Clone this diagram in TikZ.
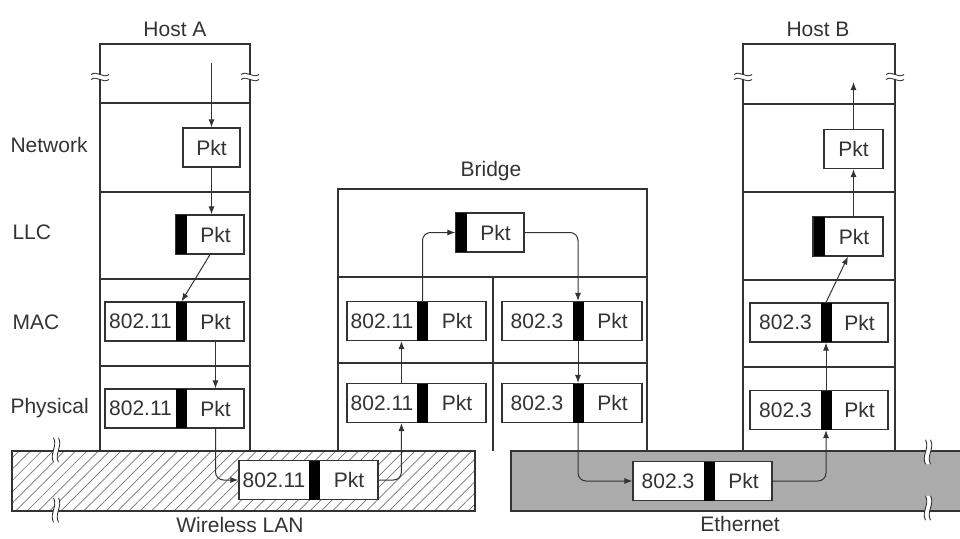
\documentclass[tikz,border=0pt]{standalone}
\usepackage{fontspec}
\setmainfont{Liberation Sans}
\usetikzlibrary{arrows.meta,patterns.meta}

\begin{document}
\begin{tikzpicture}[
	x=1pt, y=-1pt,
	line width=1.1pt, color=black!80,
	font=\fontsize{21}{24}\selectfont,
	>={Latex[length=8pt,width=6pt]},
	frame/.style={ draw, fill=white, inner sep=0pt, minimum height=39pt },
	hdr/.style={ fill=black, inner sep=0pt, minimum width=11pt, minimum height=39pt },
	txt/.style={ inner sep=0pt },
	flow/.style={ ->, line width=1pt, rounded corners=8pt }
]
\useasboundingbox (0,0) rectangle (960,538);

\draw[pattern={Lines[angle=45,distance=8pt,line width=0.7pt]}, pattern color=black!55] (12,451) rectangle (475,511);
\fill[black!33] (511,451) rectangle (960,511);
\draw (960,451) -- (511,451) -- (511,511) -- (960,511);

\draw (100,451) -- (100,44) -- (250,44) -- (250,451);
\foreach \y in {103,192,279,366} \draw (100,\y) -- (250,\y);

\draw (338,451) -- (338,189) -- (647,189) -- (647,451);
\foreach \y in {277,363} \draw (338,\y) -- (647,\y);
\draw (493,277) -- (493,451);

\draw (743,451) -- (743,44) -- (895,44) -- (895,451);
\foreach \y in {104,192,280,367} \draw (743,\y) -- (895,\y);

\foreach \bx/\by/\ang/\s in {100/77/0/1, 250/77/0/1, 743/77/0/1, 895/77/0/1, 56/450/90/1.35, 56/510/90/1.35, 928/452/90/1.35, 928/508/90/1.35} {
	\begin{scope}[shift={(\bx,\by)}, rotate=\ang, xscale=\s]
	\fill[white] (-9,-2.5) .. controls (-3,-7) and (3,2) .. (9,-2.5) -- (9,2.5) .. controls (3,7) and (-3,-2) .. (-9,2.5) -- cycle;
	\draw[line width=0.9pt] (-9,-2.5) .. controls (-3,-7) and (3,2) .. (9,-2.5);
	\draw[line width=0.9pt] (-9,2.5) .. controls (-3,-2) and (3,7) .. (9,2.5);
	\end{scope}
}

\node[txt] (hostA) at (175,29) {Host A};
\node[txt] (hostB) at (818,29) {Host B};
\node[txt] (bridge) at (491,171) {Bridge};
\node[txt,anchor=west] (lNet) at (10,145) {Network};
\node[txt,anchor=west] (lLLC) at (12,232) {LLC};
\node[txt,anchor=west] (lMAC) at (12,322) {MAC};
\node[txt,anchor=west] (lPhy) at (10,408) {Physical};
\node[txt] (wlan) at (240,525) {Wireless LAN};
\node[txt] (ether) at (740,524) {Ethernet};

\node[frame,minimum width=57pt] (aNet) at (211.5,147.5) {Pkt};
\node[frame,minimum width=68pt] (aLLC) at (210,234.5) {};
\node[hdr] (aLLCh) at (181.5,234.5) {};
\node[txt] (aLLCp) at (215.5,234.5) {Pkt};
\node[frame,minimum width=139pt] (aMAC) at (174.5,321.5) {};
\node[hdr] (aMACh) at (181.5,321.5) {};
\node[txt] (aMACt) at (140.5,321.5) {802.11};
\node[txt] (aMACp) at (215.5,321.5) {Pkt};
\node[frame,minimum width=139pt] (aPhy) at (174.5,408.5) {};
\node[hdr] (aPhyh) at (181.5,408.5) {};
\node[txt] (aPhyt) at (140.5,408.5) {802.11};
\node[txt] (aPhyp) at (215.5,408.5) {Pkt};

\node[frame,minimum width=139pt] (wFr) at (308.5,480) {};
\node[hdr] (wFrh) at (314.5,480) {};
\node[txt] (wFrt) at (274,480) {802.11};
\node[txt] (wFrp) at (349,480) {Pkt};

\node[frame,minimum width=68pt] (bLLC) at (490,232.5) {};
\node[hdr] (bLLCh) at (461.5,232.5) {};
\node[txt] (bLLCp) at (495.5,232.5) {Pkt};
\node[frame,minimum width=139pt] (bMacL) at (416.5,321) {};
\node[hdr] (bMacLh) at (422.5,321) {};
\node[txt] (bMacLt) at (382,321) {802.11};
\node[txt] (bMacLp) at (457,321) {Pkt};
\node[frame,minimum width=140pt] (bMacR) at (572,321) {};
\node[hdr] (bMacRh) at (578,321) {};
\node[txt] (bMacRt) at (537,321) {802.3};
\node[txt] (bMacRp) at (612.5,321) {Pkt};
\node[frame,minimum width=139pt] (bPhyL) at (416.5,403) {};
\node[hdr] (bPhyLh) at (422.5,403) {};
\node[txt] (bPhyLt) at (382,403) {802.11};
\node[txt] (bPhyLp) at (457,403) {Pkt};
\node[frame,minimum width=140pt] (bPhyR) at (572,403) {};
\node[hdr] (bPhyRh) at (578,403) {};
\node[txt] (bPhyRt) at (537,403) {802.3};
\node[txt] (bPhyRp) at (612.5,403) {Pkt};

\node[frame,minimum width=139pt] (eFr) at (702.5,481) {};
\node[hdr] (eFrh) at (709,481) {};
\node[txt] (eFrt) at (668,481) {802.3};
\node[txt] (eFrp) at (743.5,481) {Pkt};

\node[frame,minimum width=59pt] (hNet) at (853.5,149) {Pkt};
\node[frame,minimum width=70pt] (hLLC) at (848,236.5) {};
\node[hdr] (hLLCh) at (819,236.5) {};
\node[txt] (hLLCp) at (854,236.5) {Pkt};
\node[frame,minimum width=138pt] (hMAC) at (819,322.5) {};
\node[hdr] (hMACh) at (826,322.5) {};
\node[txt] (hMACt) at (785.5,322.5) {802.3};
\node[txt] (hMACp) at (859.5,322.5) {Pkt};
\node[frame,minimum width=138pt] (hPhy) at (819,410) {};
\node[hdr] (hPhyh) at (826,410) {};
\node[txt] (hPhyt) at (785.5,410) {802.3};
\node[txt] (hPhyp) at (859.5,410) {Pkt};

\coordinate (aTop) at (211.5,63);
\coordinate (hTop) at (853.5,82);

\draw[flow] (aTop) -- (aNet.north);
\draw[flow] (aNet.south) -- (aNet.south |- aLLC.north);
\draw[flow] (aLLC.south) -- (aMACh.north);
\draw[flow] (aMACp |- aMAC.south) -- (aMACp |- aPhy.north);
\draw[flow] (aPhyp |- aPhy.south) |- (wFr.west);
\draw[flow] (wFr.east) -| ([xshift=55pt]bPhyL.south west);
\draw[flow] ([xshift=55pt]bPhyL.north west) -- ([xshift=55pt]bMacL.south west);
\draw[flow] (bMacLh.north) |- (bLLC.west);
\draw[flow] (bLLC.east) -| (bMacRh.north);
\draw[flow] (bMacRh.south) -- (bPhyRh.north);
\draw[flow] (bPhyRh.south) |- (eFr.west);
\draw[flow] (eFr.east) -| (hPhyh.south);
\draw[flow] (hPhyh.north) -- (hMACh.south);
\draw[flow] (hMACh.north) -- (hLLC.south);
\draw[flow] (hNet.south |- hLLC.north) -- (hNet.south);
\draw[flow] (hNet.north) -- (hTop);

\end{tikzpicture}
\end{document}
